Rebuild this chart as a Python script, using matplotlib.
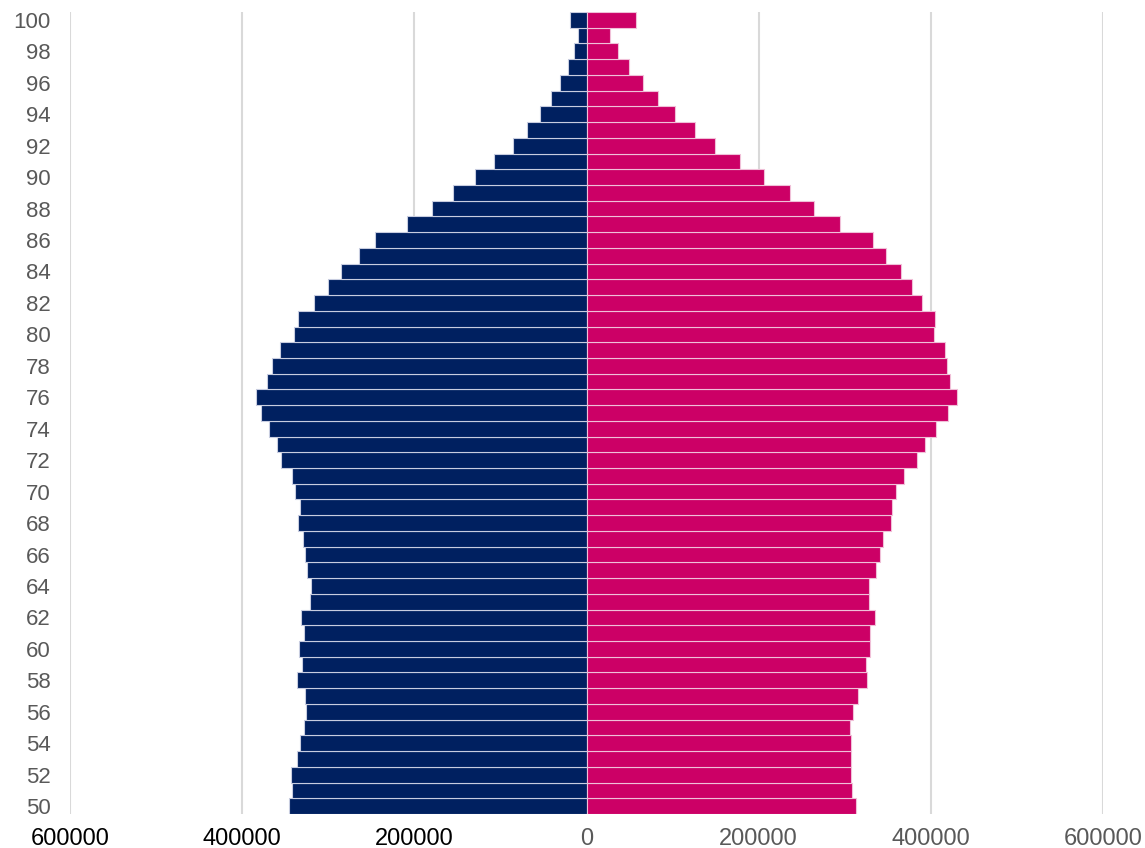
import matplotlib.pyplot as plt
import numpy as np

plt.rcParams['font.family'] = ['Liberation Sans', 'DejaVu Sans']

# Ages 50..100 (bottom to top)
ages = np.arange(50, 101)

# Male population by age (50..100), drawn on the left
male = [345900, 342400, 343600, 336600, 332700, 327700, 325800, 326500, 335800, 330800,
        333900, 328100, 332000, 321500, 319600, 324600, 327300, 329300, 335400, 333100,
        338200, 342000, 355200, 359400, 368300, 377600, 383800, 371000, 364900, 355600,
        340100, 334700, 316500, 299800, 284700, 263800, 245700, 208100, 179900, 155200,
        130000, 107900, 85900, 69300, 54200, 41000, 30600, 21300, 15100, 10100, 19700]

# Female population by age (50..100), drawn on the right
female = [313400, 308700, 307600, 306800, 306800, 305600, 309500, 314900, 326200, 324500,
          328800, 329200, 334600, 327700, 328000, 336600, 340400, 343900, 353600, 354700,
          359000, 368300, 383400, 392700, 405500, 419400, 430200, 422000, 418600, 416300,
          403500, 404300, 389600, 378600, 365200, 347400, 333100, 294000, 263800, 236300,
          206200, 178000, 148900, 125700, 102900, 83100, 65700, 49100, 36700, 27000, 57600]

x_ticks = [-600000, -400000, -200000, 0, 200000, 400000, 600000]
x_tick_labels = ['600000', '400000', '200000', '0', '200000', '400000', '600000']
y_ticks = list(range(50, 101, 2))

MALE_COLOR = '#002060'
FEMALE_COLOR = '#CC0066'
LABEL_GRAY = '#595959'

fig = plt.figure(figsize=(11.45, 8.48), dpi=100)
ax = fig.add_axes([70 / 1145, 1 - 814 / 848, (1103 - 70) / 1145, (814 - 12) / 848])

ax.barh(ages, -np.array(male), height=1.0, color=MALE_COLOR,
        edgecolor='#c8cde0', linewidth=0.8, zorder=3)
ax.barh(ages, female, height=1.0, color=FEMALE_COLOR,
        edgecolor='#f0c0d8', linewidth=0.8, zorder=3)

ax.set_xlim(-600000, 600000)
ax.set_ylim(49.5, 100.5)

ax.set_xticks(x_ticks)
ax.set_xticklabels(x_tick_labels)
ax.set_yticks(y_ticks)

ax.tick_params(axis='both', length=0, labelcolor=LABEL_GRAY)
ax.tick_params(axis='y', pad=14, labelsize=16)
ax.tick_params(axis='x', pad=10, labelsize=17)
for lbl in ax.get_xticklabels()[:3]:
    lbl.set_color('black')

ax.grid(True, axis='x', color='#d9d9d9', linewidth=1.5, zorder=0)
ax.set_axisbelow(True)
for side in ['top', 'right', 'bottom', 'left']:
    ax.spines[side].set_visible(False)

fig.savefig('out.png', dpi=100)
